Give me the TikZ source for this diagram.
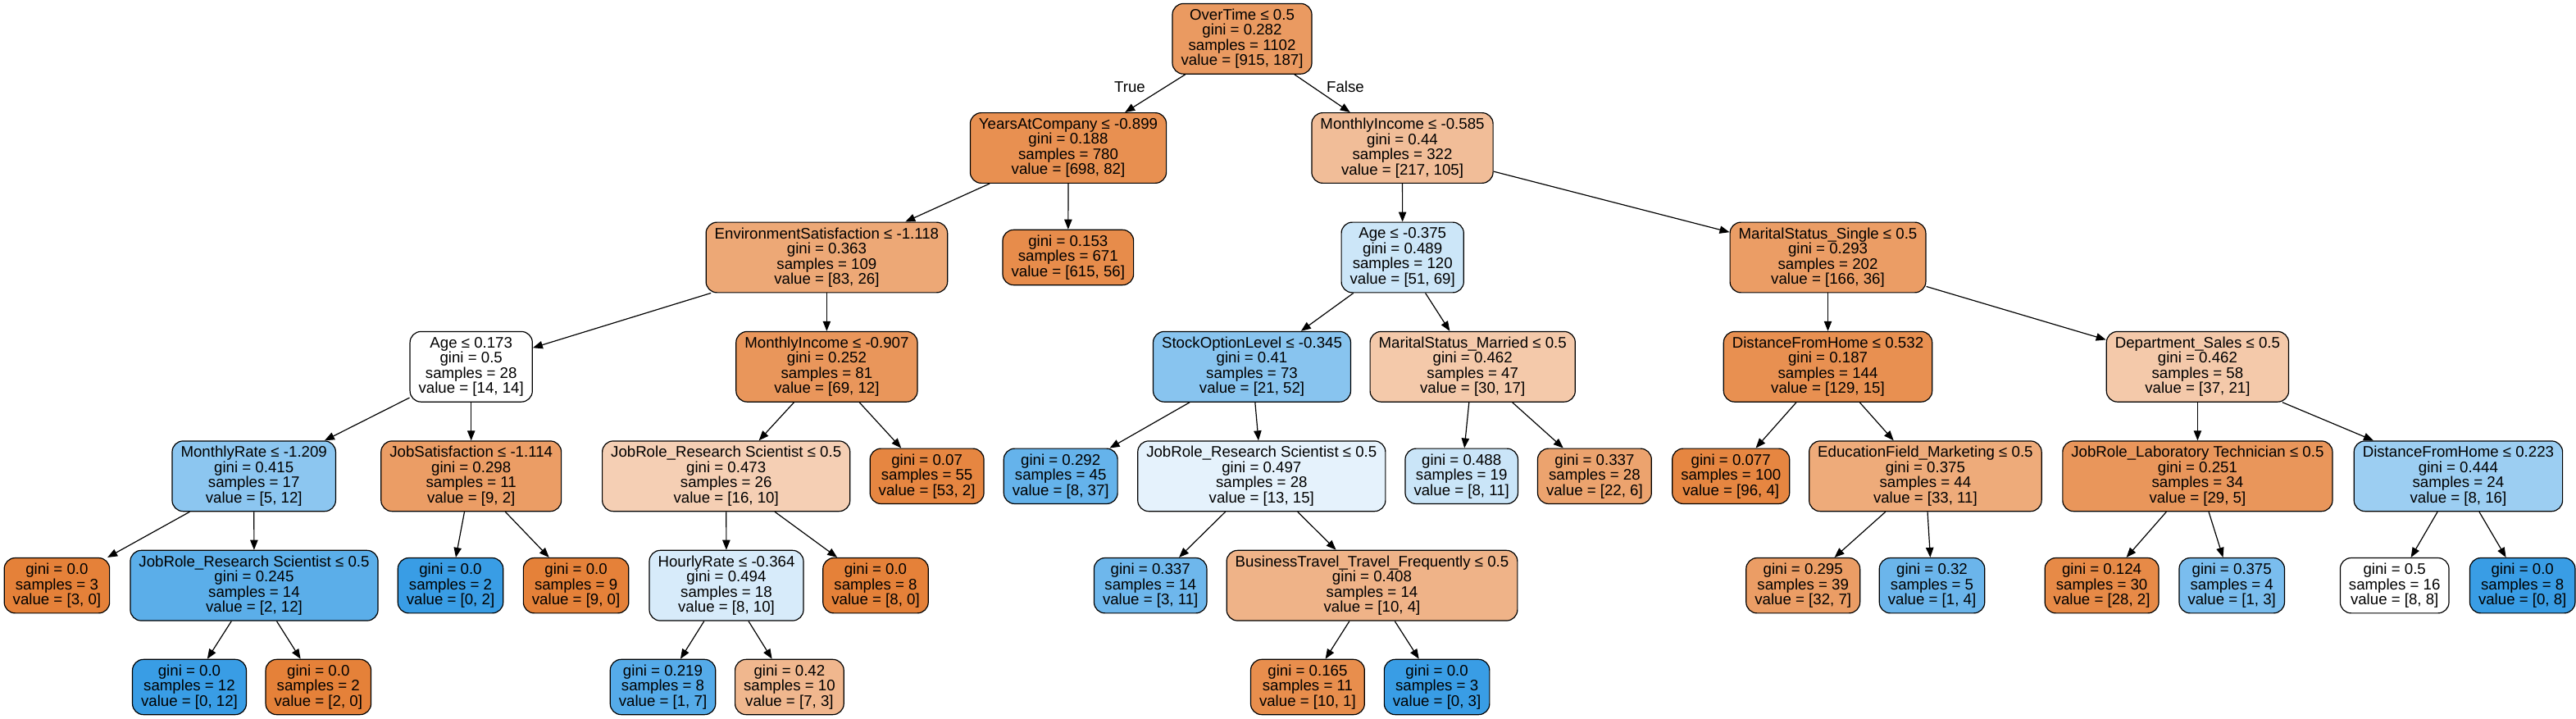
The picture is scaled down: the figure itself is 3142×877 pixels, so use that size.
\documentclass[tikz,border=0pt]{standalone}
\usepackage{fontspec}
\setmainfont{Liberation Sans}
\usetikzlibrary{arrows.meta}
\definecolor{orng}{RGB}{229,129,57}
\definecolor{blu}{RGB}{57,157,229}
\tikzset{splitbox/.style={draw, rounded corners=10pt, align=center,
    inner xsep=7.9pt, inner ysep=2pt, minimum height=64.3pt, line width=0.9pt},
  leafbox/.style={splitbox, minimum height=50.5pt},
  branch/.style={-{Triangle[length=9pt,width=7pt]}, line width=0.9pt}
}

\begin{document}
\begin{tikzpicture}[x=0.75pt, y=-0.75pt, font=\fontsize{14}{13.9}\selectfont]
  \useasboundingbox (0,0) rectangle (3142,877);
  % rank 0 and 1
  \node[splitbox, fill=orng!80] (root) at (1515,47.3) {OverTime ≤ 0.5\\gini = 0.282\\samples = 1102\\value = [915, 187]};
  \node[splitbox, fill=orng!88] (yac) at (1303,180.5) {YearsAtCompany ≤ -0.899\\gini = 0.188\\samples = 780\\value = [698, 82]};
  \node[splitbox, fill=orng!52] (incA) at (1710.5,180.5) {MonthlyIncome ≤ -0.585\\gini = 0.44\\samples = 322\\value = [217, 105]};
  \node (truelab) at (1378,106) {True};
  \node (falselab) at (1641,106) {False};
  % rank 2
  \node[splitbox, fill=orng!69] (env) at (1008.4,314) {EnvironmentSatisfaction ≤ -1.118\\gini = 0.363\\samples = 109\\value = [83, 26]};
  \node[leafbox, fill=orng!91] (lfA) at (1302.8,314) {gini = 0.153\\samples = 671\\value = [615, 56]};
  \node[splitbox, fill=blu!26] (ageA) at (1710.7,314) {Age ≤ -0.375\\gini = 0.489\\samples = 120\\value = [51, 69]};
  \node[splitbox, fill=orng!78] (single) at (2229.5,314) {MaritalStatus\_Single ≤ 0.5\\gini = 0.293\\samples = 202\\value = [166, 36]};
  % rank 3
  \node[splitbox, fill=white] (ageB) at (574.7,447.3) {Age ≤ 0.173\\gini = 0.5\\samples = 28\\value = [14, 14]};
  \node[splitbox, fill=orng!83] (incB) at (1008.4,447.3) {MonthlyIncome ≤ -0.907\\gini = 0.252\\samples = 81\\value = [69, 12]};
  \node[splitbox, fill=blu!60] (stock) at (1527,447.3) {StockOptionLevel ≤ -0.345\\gini = 0.41\\samples = 73\\value = [21, 52]};
  \node[splitbox, fill=orng!43] (married) at (1796.2,447.3) {MaritalStatus\_Married ≤ 0.5\\gini = 0.462\\samples = 47\\value = [30, 17]};
  \node[splitbox, fill=orng!88] (distA) at (2229.5,447.3) {DistanceFromHome ≤ 0.532\\gini = 0.187\\samples = 144\\value = [129, 15]};
  \node[splitbox, fill=orng!43] (sales) at (2680.4,447.3) {Department\_Sales ≤ 0.5\\gini = 0.462\\samples = 58\\value = [37, 21]};
  % rank 4
  \node[splitbox, fill=blu!58] (rate) at (309.7,580.8) {MonthlyRate ≤ -1.209\\gini = 0.415\\samples = 17\\value = [5, 12]};
  \node[splitbox, fill=orng!78] (jobsat) at (574.7,580.8) {JobSatisfaction ≤ -1.114\\gini = 0.298\\samples = 11\\value = [9, 2]};
  \node[splitbox, fill=orng!38] (sciA) at (885.7,580.8) {JobRole\_Research Scientist ≤ 0.5\\gini = 0.473\\samples = 26\\value = [16, 10]};
  \node[leafbox, fill=orng!96] (lfB) at (1130.6,580.8) {gini = 0.07\\samples = 55\\value = [53, 2]};
  \node[leafbox, fill=blu!78] (lfC) at (1293.7,580.8) {gini = 0.292\\samples = 45\\value = [8, 37]};
  \node[splitbox, fill=blu!13] (sciB) at (1538.8,580.8) {JobRole\_Research Scientist ≤ 0.5\\gini = 0.497\\samples = 28\\value = [13, 15]};
  \node[leafbox, fill=blu!27] (lfD) at (1782.7,580.8) {gini = 0.488\\samples = 19\\value = [8, 11]};
  \node[leafbox, fill=orng!73] (lfE) at (1944.9,580.8) {gini = 0.337\\samples = 28\\value = [22, 6]};
  \node[leafbox, fill=orng!96] (lfF) at (2111.2,580.8) {gini = 0.077\\samples = 100\\value = [96, 4]};
  \node[splitbox, fill=orng!67] (mkt) at (2348.4,580.8) {EducationField\_Marketing ≤ 0.5\\gini = 0.375\\samples = 44\\value = [33, 11]};
  \node[splitbox, fill=orng!83] (lab) at (2680.4,580.8) {JobRole\_Laboratory Technician ≤ 0.5\\gini = 0.251\\samples = 34\\value = [29, 5]};
  \node[splitbox, fill=blu!50] (distB) at (2998.4,580.8) {DistanceFromHome ≤ 0.223\\gini = 0.444\\samples = 24\\value = [8, 16]};
  % rank 5
  \node[leafbox, fill=orng] (lfG) at (69.4,714.2) {gini = 0.0\\samples = 3\\value = [3, 0]};
  \node[splitbox, fill=blu!83] (sciC) at (310,714.2) {JobRole\_Research Scientist ≤ 0.5\\gini = 0.245\\samples = 14\\value = [2, 12]};
  \node[leafbox, fill=blu] (lfH) at (549.5,714.2) {gini = 0.0\\samples = 2\\value = [0, 2]};
  \node[leafbox, fill=orng] (lfI) at (702.6,714.2) {gini = 0.0\\samples = 9\\value = [9, 0]};
  \node[splitbox, fill=blu!20] (hourly) at (886,714.2) {HourlyRate ≤ -0.364\\gini = 0.494\\samples = 18\\value = [8, 10]};
  \node[leafbox, fill=orng] (lfJ) at (1068,714.2) {gini = 0.0\\samples = 8\\value = [8, 0]};
  \node[leafbox, fill=blu!73] (lfK) at (1403.2,714.2) {gini = 0.337\\samples = 14\\value = [3, 11]};
  \node[splitbox, fill=orng!60] (travel) at (1673.5,714.2) {BusinessTravel\_Travel\_Frequently ≤ 0.5\\gini = 0.408\\samples = 14\\value = [10, 4]};
  \node[leafbox, fill=orng!78] (lfL) at (2199.2,714.2) {gini = 0.295\\samples = 39\\value = [32, 7]};
  \node[leafbox, fill=blu!75] (lfM) at (2356.5,714.2) {gini = 0.32\\samples = 5\\value = [1, 4]};
  \node[leafbox, fill=orng!93] (lfN) at (2563.6,714.2) {gini = 0.124\\samples = 30\\value = [28, 2]};
  \node[leafbox, fill=blu!67] (lfO) at (2722.2,714.2) {gini = 0.375\\samples = 4\\value = [1, 3]};
  \node[leafbox, fill=white] (lfP) at (2920.7,714.2) {gini = 0.5\\samples = 16\\value = [8, 8]};
  \node[leafbox, fill=blu] (lfQ) at (3076.7,714.2) {gini = 0.0\\samples = 8\\value = [0, 8]};
  % rank 6
  \node[leafbox, fill=blu] (lfR) at (231,838) {gini = 0.0\\samples = 12\\value = [0, 12]};
  \node[leafbox, fill=orng] (lfS) at (388.3,838) {gini = 0.0\\samples = 2\\value = [2, 0]};
  \node[leafbox, fill=blu!86] (lfT) at (808.5,838) {gini = 0.219\\samples = 8\\value = [1, 7]};
  \node[leafbox, fill=orng!57] (lfU) at (962.9,838) {gini = 0.42\\samples = 10\\value = [7, 3]};
  \node[leafbox, fill=orng!90] (lfV) at (1594.9,838) {gini = 0.165\\samples = 11\\value = [10, 1]};
  \node[leafbox, fill=blu] (lfW) at (1752.6,838) {gini = 0.0\\samples = 3\\value = [0, 3]};
  % branches
  \draw[branch] (root) -- (yac);
  \draw[branch] (root) -- (incA);
  \draw[branch] (yac) -- (env);
  \draw[branch] (yac) -- (lfA);
  \draw[branch] (incA) -- (ageA);
  \draw[branch] (incA) -- (single);
  \draw[branch] (env) -- (ageB);
  \draw[branch] (env) -- (incB);
  \draw[branch] (ageA) -- (stock);
  \draw[branch] (ageA) -- (married);
  \draw[branch] (single) -- (distA);
  \draw[branch] (single) -- (sales);
  \draw[branch] (ageB) -- (rate);
  \draw[branch] (ageB) -- (jobsat);
  \draw[branch] (incB) -- (sciA);
  \draw[branch] (incB) -- (lfB);
  \draw[branch] (stock) -- (lfC);
  \draw[branch] (stock) -- (sciB);
  \draw[branch] (married) -- (lfD);
  \draw[branch] (married) -- (lfE);
  \draw[branch] (distA) -- (lfF);
  \draw[branch] (distA) -- (mkt);
  \draw[branch] (sales) -- (lab);
  \draw[branch] (sales) -- (distB);
  \draw[branch] (rate) -- (lfG);
  \draw[branch] (rate) -- (sciC);
  \draw[branch] (jobsat) -- (lfH);
  \draw[branch] (jobsat) -- (lfI);
  \draw[branch] (sciA) -- (hourly);
  \draw[branch] (sciA) -- (lfJ);
  \draw[branch] (sciB) -- (lfK);
  \draw[branch] (sciB) -- (travel);
  \draw[branch] (mkt) -- (lfL);
  \draw[branch] (mkt) -- (lfM);
  \draw[branch] (lab) -- (lfN);
  \draw[branch] (lab) -- (lfO);
  \draw[branch] (distB) -- (lfP);
  \draw[branch] (distB) -- (lfQ);
  \draw[branch] (sciC) -- (lfR);
  \draw[branch] (sciC) -- (lfS);
  \draw[branch] (hourly) -- (lfT);
  \draw[branch] (hourly) -- (lfU);
  \draw[branch] (travel) -- (lfV);
  \draw[branch] (travel) -- (lfW);
\end{tikzpicture}
\end{document}
